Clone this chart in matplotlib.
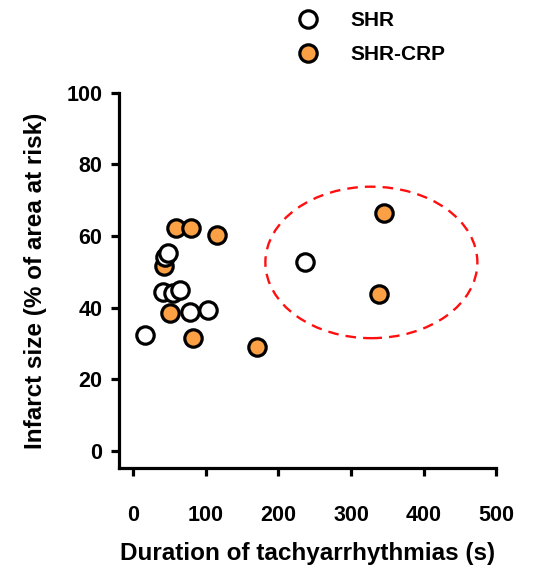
import matplotlib.pyplot as plt
from matplotlib.patches import Ellipse

# values
shr_x = [16, 41, 44, 48, 55, 64, 78, 103, 237]
shr_y = [32.3, 44.4, 54.2, 55.1, 44.0, 44.9, 38.8, 39.3, 52.7]
crp_x = [43, 51, 59, 80, 82, 115, 170, 339, 346]
crp_y = [51.5, 38.4, 62.2, 62.1, 31.4, 60.3, 29.0, 43.7, 66.3]
x_ticks = [0, 100, 200, 300, 400, 500]
y_ticks = [0, 20, 40, 60, 80, 100]

orange = '#FBA044'
plt.rcParams['font.family'] = ['Liberation Sans', 'DejaVu Sans']
plt.rcParams['font.weight'] = 'bold'

fig = plt.figure(figsize=(5.52, 5.71), dpi=100)
ax = fig.add_axes([0.216, 0.1804, 0.683, 0.6573])

ax.plot(crp_x, crp_y, 'o', ms=12.5, mfc=orange, mec='black', mew=2.3,
        clip_on=False, zorder=3, label='SHR-CRP')
ax.plot(shr_x, shr_y, 'o', ms=12.5, mfc='white', mec='black', mew=2.3,
        clip_on=False, zorder=4, label='SHR')

ell = Ellipse((328, 52.6), 292, 42.3, fill=False, ec='#FF1010', lw=1.7,
              ls=(0, (4.5, 3)), clip_on=False)
ax.add_patch(ell)

ax.set_xlim(-19.3, 500)
ax.set_ylim(-4.8, 100)
ax.set_xticks(x_ticks)
ax.set_yticks(y_ticks)
for s in ['top', 'right']:
    ax.spines[s].set_visible(False)
for s in ['left', 'bottom']:
    ax.spines[s].set_linewidth(2.3)
ax.tick_params(width=2.3, length=6, labelsize=15.5)
ax.tick_params(axis='y', pad=6)
ax.tick_params(axis='x', pad=21)
for lab in ax.get_xticklabels() + ax.get_yticklabels():
    lab.set_fontweight('bold')

ax.set_xlabel('Duration of tachyarrhythmias (s)', fontsize=17.5,
              fontweight='bold', labelpad=11)
ax.set_ylabel('Infarct size (% of area at risk)', fontsize=17.5,
              fontweight='bold', labelpad=14)

h, l = ax.get_legend_handles_labels()
fig.legend(h[::-1], l[::-1], loc='upper left', bbox_to_anchor=(0.50, 1.0),
           frameon=False, prop={'size': 15, 'weight': 'bold'},
           handletextpad=1.0, labelspacing=0.7, borderaxespad=0.15)

fig.savefig('out.png', dpi=100)
